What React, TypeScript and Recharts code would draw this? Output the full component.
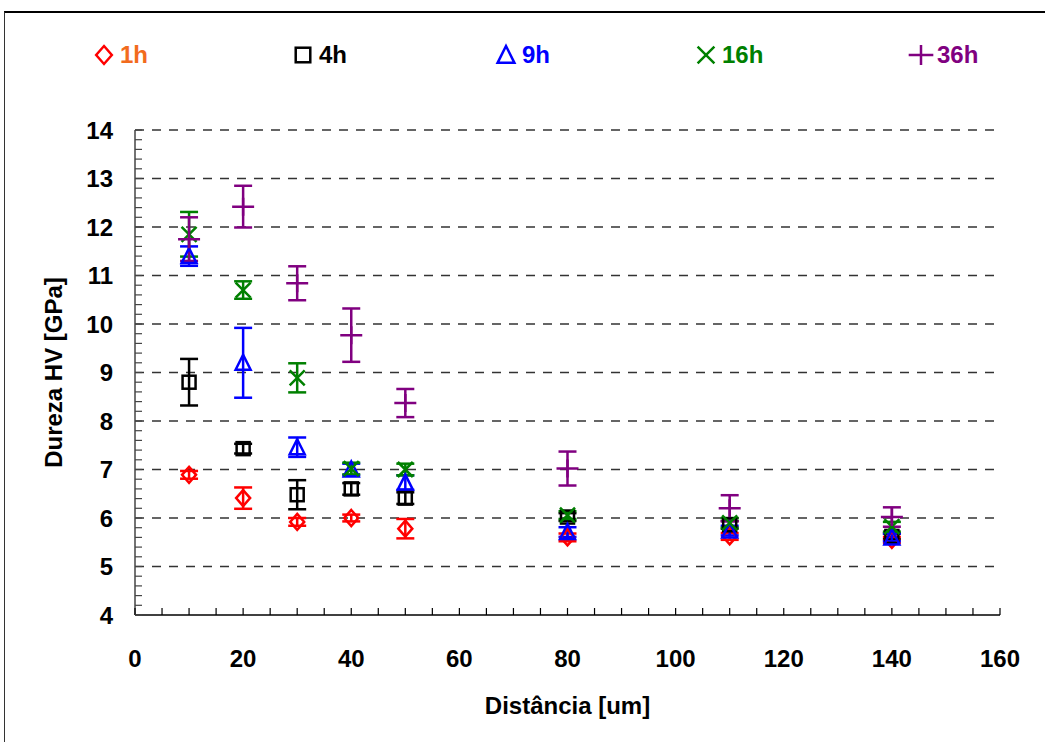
import React from 'react';
import { ScatterChart, Scatter, XAxis, YAxis, ErrorBar, ReferenceLine, Label } from 'recharts';

// ---- data ----
const distances = [10, 20, 30, 40, 50, 80, 110, 140];

const h1Values = [6.89, 6.41, 5.92, 6.0, 5.78, 5.6, 5.62, 5.55];
const h1Errors = [0.08, 0.22, 0.08, 0.07, 0.2, 0.08, 0.07, 0.06];

const h4Values = [8.8, 7.43, 6.48, 6.6, 6.41, 6.02, 5.86, 5.62];
const h4Errors = [0.48, 0.1, 0.3, 0.12, 0.12, 0.08, 0.08, 0.06];

const h9Values = [11.4, 9.2, 7.46, 7.0, 6.73, 5.71, 5.74, 5.6];
const h9Errors = [0.2, 0.72, 0.2, 0.12, 0.15, 0.1, 0.1, 0.08];

const h16Values = [11.85, 10.7, 8.89, 7.02, 7.0, 6.06, 5.9, 5.82];
const h16Errors = [0.46, 0.18, 0.3, 0.12, 0.12, 0.08, 0.1, 0.1];

const h36Values = [11.75, 12.42, 10.84, 9.77, 8.37, 7.02, 6.2, 6.02];
const h36Errors = [0.45, 0.43, 0.35, 0.55, 0.29, 0.35, 0.27, 0.2];

const seriesNames = ['1h', '4h', '9h', '16h', '36h'];
const xTickLabels = [0, 20, 40, 60, 80, 100, 120, 140, 160];
const yTickLabels = [4, 5, 6, 7, 8, 9, 10, 11, 12, 13, 14];
const gridValues = [5, 6, 7, 8, 9, 10, 11, 12, 13, 14];

// ---- styling ----
const FONT = '"Liberation Sans", Arial, sans-serif';
const colors = ['#ff0000', '#000000', '#0000ff', '#008000', '#800080'];
const legendTextColors = ['#f26b1d', '#000000', '#0000ff', '#008000', '#800080'];
const legendX = [104, 303, 506, 706, 921];

const xMinorTicks: number[] = [];
for (let i = 0; i <= 32; i++) xMinorTicks.push(i * 5);
const yMinorTicks: number[] = [];
for (let i = 0; i <= 50; i++) yMinorTicks.push(Math.round((4 + i * 0.2) * 10) / 10);

const build = (vals: number[], errs: number[]) =>
  distances.map((d, i) => ({ x: d, y: vals[i], err: errs[i] }));

const seriesData = [
  build(h1Values, h1Errors),
  build(h4Values, h4Errors),
  build(h9Values, h9Errors),
  build(h16Values, h16Errors),
  build(h36Values, h36Errors),
];

const SW = 2.5;

const Marker = ({ kind, cx, cy, color, s = 1 }: { kind: number; cx: number; cy: number; color: string; s?: number }) => {
  switch (kind) {
    case 0:
      return <path d={`M${cx},${cy - 8 * s} L${cx + 7 * s},${cy} L${cx},${cy + 8 * s} L${cx - 7 * s},${cy} Z`} fill="none" stroke={color} strokeWidth={SW} />;
    case 1:
      return <rect x={cx - 6.5 * s} y={cy - 6.5 * s} width={13 * s} height={13 * s} fill="none" stroke={color} strokeWidth={SW} />;
    case 2:
      return <path d={`M${cx},${cy - 8 * s} L${cx + 7.5 * s},${cy + 7 * s} L${cx - 7.5 * s},${cy + 7 * s} Z`} fill="none" stroke={color} strokeWidth={SW} />;
    case 3:
      return <path d={`M${cx - 7.5 * s},${cy - 7.5 * s} L${cx + 7.5 * s},${cy + 7.5 * s} M${cx + 7.5 * s},${cy - 7.5 * s} L${cx - 7.5 * s},${cy + 7.5 * s}`} fill="none" stroke={color} strokeWidth={SW} />;
    default:
      return <path d={`M${cx - 11 * s},${cy} L${cx + 11 * s},${cy} M${cx},${cy - 9 * s} L${cx},${cy + 9 * s}`} fill="none" stroke={color} strokeWidth={SW} />;
  }
};

const XTick = (props: any) => {
  const { x, y, payload } = props;
  const v = payload.value;
  const major = xTickLabels.includes(v);
  return (
    <g>
      <line x1={x} x2={x} y1={y} y2={y - 7} stroke="#000" strokeWidth={1.2} />
      {major && (
        <text x={x} y={y + 43} textAnchor="middle" dominantBaseline="central" fontFamily={FONT} fontWeight="bold" fontSize={24} fill="#000">
          {v}
        </text>
      )}
    </g>
  );
};

const YTick = (props: any) => {
  const { x, y, payload } = props;
  const v = payload.value;
  const major = yTickLabels.some((t) => Math.abs(t - v) < 1e-6);
  return (
    <g>
      <line x1={x} x2={x + 7} y1={y} y2={y} stroke="#444" strokeWidth={1.2} />
      {major && (
        <text x={x - 22} y={y} textAnchor="end" dominantBaseline="central" fontFamily={FONT} fontWeight="bold" fontSize={24} fill="#000">
          {Math.round(v)}
        </text>
      )}
    </g>
  );
};

export default function App() {
  return (
    <div style={{ position: 'absolute', left: 0, top: 0, width: 1045, height: 742, overflow: 'hidden', background: '#fff' }}>
      <div style={{ position: 'absolute', left: 4, top: 11, width: 1100, height: 800, borderTop: '2px solid #000', borderLeft: '1px solid #333' }} />
      <div style={{ position: 'absolute', left: 0, top: 0 }}>
        <ScatterChart width={1045} height={742} margin={{ top: 130, right: 45, bottom: 27, left: 50 }}>
          {gridValues.map((g) => (
            <ReferenceLine key={g} y={g} stroke="#333" strokeWidth={1.5} strokeDasharray="9 8" />
          ))}
          <XAxis
            type="number"
            dataKey="x"
            domain={[0, 160]}
            ticks={xMinorTicks}
            interval={0}
            tickSize={0}
            tickMargin={0}
            tickLine={false}
            tick={<XTick />}
            axisLine={{ stroke: '#000', strokeWidth: 1.5 }}
            height={100}
          >
            <Label
              content={(p: any) => {
                const vb = p.viewBox;
                return (
                  <text x={vb.x + vb.width / 2} y={vb.y + 90} textAnchor="middle" dominantBaseline="central" fontFamily={FONT} fontWeight="bold" fontSize={24} fill="#000">
                    Distância [um]
                  </text>
                );
              }}
            />
          </XAxis>
          <YAxis
            type="number"
            dataKey="y"
            domain={[4, 14]}
            ticks={yMinorTicks}
            interval={0}
            tickSize={0}
            tickMargin={0}
            tickLine={false}
            tick={<YTick />}
            axisLine={{ stroke: '#444', strokeWidth: 1.5 }}
            width={85}
          >
            <Label
              content={(p: any) => {
                const vb = p.viewBox;
                const cx = vb.x + 3;
                const cy = vb.y + vb.height / 2;
                return (
                  <text x={cx} y={cy} transform={`rotate(-90 ${cx} ${cy})`} textAnchor="middle" dominantBaseline="central" fontFamily={FONT} fontWeight="bold" fontSize={24} fill="#000">
                    Dureza HV [GPa]
                  </text>
                );
              }}
            />
          </YAxis>
          {seriesData.map((data, si) => (
            <Scatter
              key={seriesNames[si]}
              name={seriesNames[si]}
              data={data}
              isAnimationActive={false}
              shape={(p: any) => <Marker kind={si} cx={p.cx} cy={p.cy} color={colors[si]} />}
            >
              <ErrorBar dataKey="err" direction="y" width={9} stroke={colors[si]} strokeWidth={SW} />
            </Scatter>
          ))}
        </ScatterChart>
      </div>
      {seriesNames.map((name, si) => (
        <div
          key={name}
          style={{ position: 'absolute', left: legendX[si] - 13, top: 41, height: 28, display: 'flex', alignItems: 'center', fontFamily: FONT, fontWeight: 'bold', fontSize: 24, color: legendTextColors[si] }}
        >
          <svg width={26} height={26} style={{ display: 'block' }}>
            <Marker kind={si} cx={13} cy={13} color={colors[si]} s={1.12} />
          </svg>
          <span style={{ marginLeft: 3 }}>{name}</span>
        </div>
      ))}
    </div>
  );
}
